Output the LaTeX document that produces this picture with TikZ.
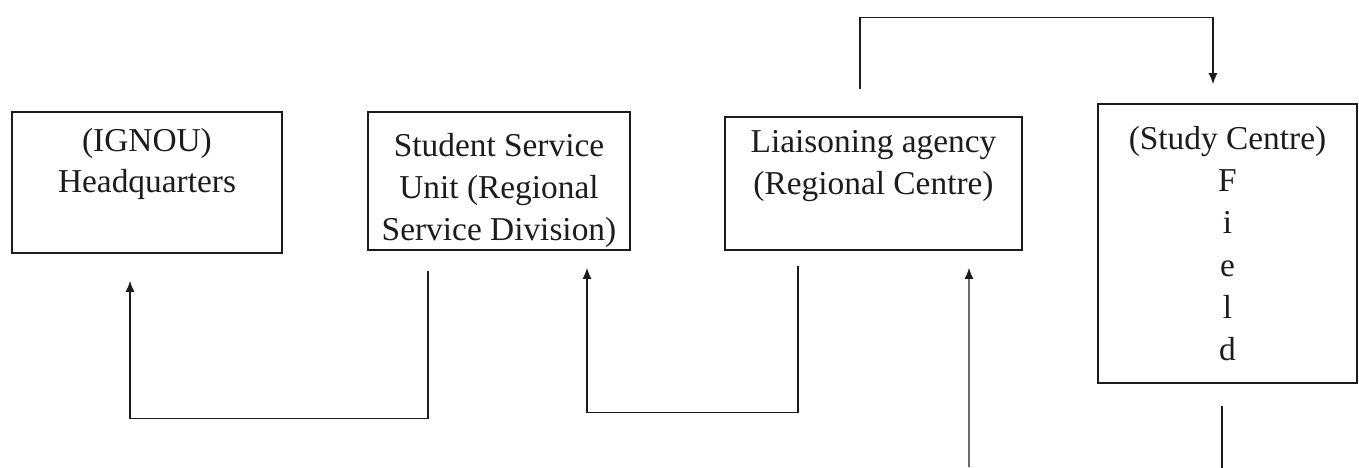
\documentclass[tikz,border=0pt]{standalone}
\usepackage{fontspec}
\setmainfont{Liberation Serif}
\usetikzlibrary{arrows.meta,positioning}
\definecolor{ink}{HTML}{1C1C1C}
\tikzset{unitbox/.style={draw=ink,line width=1pt,inner sep=0pt,align=center,font=\fontsize{19}{24}\selectfont,text=ink}, link/.style={draw=ink,line width=.65pt}, linkarrow/.style={link,-{Latex[length=2.2mm,width=1.8mm]}}}
\begin{document}
\begin{tikzpicture}[x=.02cm,y=-.02cm]
\useasboundingbox (0,0) rectangle (1359,467);
% the four units
\node[unitbox,minimum width=5.4cm,minimum height=2.82cm] (hq) at (147,182.5) {(IGNOU)\\[-1pt]Headquarters\\[-6pt]\strut};
\node[unitbox,minimum width=5.24cm,minimum height=2.76cm] (ssu) at (499,181) {\strut\\[-17pt]Student Service\\Unit (Regional\\Service Division)};
\node[unitbox,minimum width=5.94cm,minimum height=2.66cm] (rc) at (873.5,183.5) {Liaisoning agency\\(Regional Centre)\\[-7pt]\strut};
\node[unitbox,minimum width=5.18cm,minimum height=5.58cm] (sc) at (1227.5,243.5) {(Study Centre)\\F\\i\\e\\l\\d};
% feedback links
\draw[linkarrow] ([shift={(-71,20)}]ssu.south) -- ++(0,148) -| ([shift={(-17,27)}]hq.south);
\draw[linkarrow] ([shift={(-75.5,15)}]rc.south) -- ++(0,147) -| ([shift={(88,17)}]ssu.south);
\draw[linkarrow] ([shift={(-13.5,-27)}]rc.north) -- ++(0,-72) -| ([shift={(-14.5,-19)}]sc.north);
\coordinate (cutL) at (969,467);
\draw[linkarrow] (cutL) -- ([shift={(95.5,17)}]rc.south);
\draw[link] ([shift={(-5.5,22)}]sc.south) -- ++(0,62);
\end{tikzpicture}
\end{document}
